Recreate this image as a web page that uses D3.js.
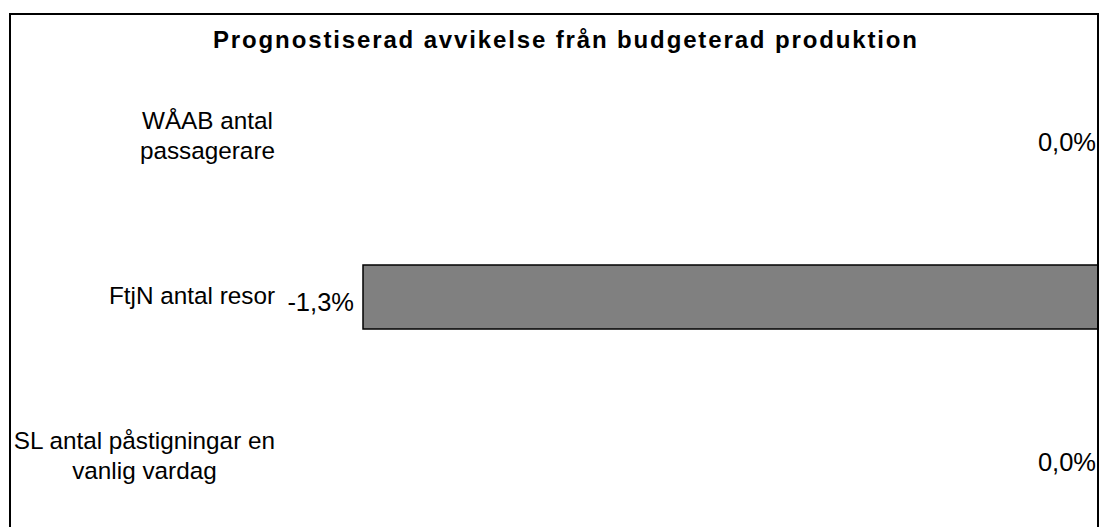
<!DOCTYPE html>
<html>
<head>
<meta charset="utf-8">
<script src="https://cdn.jsdelivr.net/npm/d3@7"></script>
<style>
  body { margin: 0; background: #fff; }
  text { font-family: "Liberation Sans", Arial, sans-serif; fill: #000; }
</style>
</head>
<body>
<div id="chart"></div>
<script>
var svgWidth = 1100;
var svgHeight = 527;

// data
var categories = ["WÅAB antal passagerare", "FtjN antal resor", "SL antal påstigningar en vanlig vardag"];
var labelLines = [["WÅAB antal", "passagerare"], ["FtjN antal resor"], ["SL antal påstigningar en", "vanlig vardag"]];
var values = [0.0, -1.3, 0.0];
var title = "Prognostiserad avvikelse från budgeterad produktion";

var svg = d3.select("#chart")
    .append("svg")
    .attr("width", svgWidth)
    .attr("height", svgHeight);

// outer frame
svg.append("rect")
    .attr("x", 10)
    .attr("y", 14)
    .attr("width", 1088)
    .attr("height", 540)
    .attr("fill", "none")
    .attr("stroke", "#000")
    .attr("stroke-width", 2);

svg.append("text")
    .attr("x", 565)
    .attr("y", 48)
    .attr("text-anchor", "middle")
    .attr("font-weight", "bold")
    .attr("font-size", 24)
    .attr("textLength", 704)
    .attr("lengthAdjust", "spacing")
    .text(title);

var x = d3.scaleLinear()
    .domain([-1.3, 0])
    .range([363, 1098]);

var y = d3.scaleBand()
    .domain(categories)
    .range([57, 537])
    .paddingInner(0.6)
    .paddingOuter(0.3);

var data = categories.map(function (c, i) {
    return { cat: c, value: values[i], lines: labelLines[i] };
});

// bars
svg.selectAll("rect.bar")
    .data(data)
    .enter()
    .append("rect")
    .attr("class", "bar")
    .attr("x", d => x(Math.min(0, d.value)))
    .attr("y", d => y(d.cat))
    .attr("width", d => Math.abs(x(d.value) - x(0)))
    .attr("height", y.bandwidth())
    .attr("fill", "#808080")
    .attr("stroke", "#000")
    .attr("stroke-width", 1.5)
    .style("display", d => d.value === 0 ? "none" : null);

// zero line
svg.append("line")
    .attr("x1", x(0)).attr("x2", x(0))
    .attr("y1", 14).attr("y2", svgHeight)
    .attr("stroke", "#000")
    .attr("stroke-width", 2);

// value labels
svg.selectAll("text.val")
    .data(data)
    .enter()
    .append("text")
    .attr("class", "val")
    .attr("x", d => d.value === 0 ? x(0) - 2 : x(d.value) - 9)
    .attr("y", d => y(d.cat) + y.bandwidth() / 2 + 13.5)
    .attr("text-anchor", "end")
    .attr("font-size", 25.5)
    .text(d => d3.format(".1f")(d.value).replace(".", ",").replace("−", "-") + "%");

// category labels: lines centred within a block right-aligned at 275
var labelRight = 275;
var lineGap = 30;
data.forEach(function (d) {
    var g = svg.append("g");
    var texts = d.lines.map(function (line, i) {
        return g.append("text")
            .attr("font-size", 24.3)
            .attr("text-anchor", "middle")
            .attr("y", y(d.cat) + y.bandwidth() / 2 + 7 + (i - (d.lines.length - 1) / 2) * lineGap)
            .text(line);
    });
    var maxW = d3.max(texts, t => t.node().getComputedTextLength());
    texts.forEach(t => t.attr("x", labelRight - maxW / 2));
});
</script>
</body>
</html>
